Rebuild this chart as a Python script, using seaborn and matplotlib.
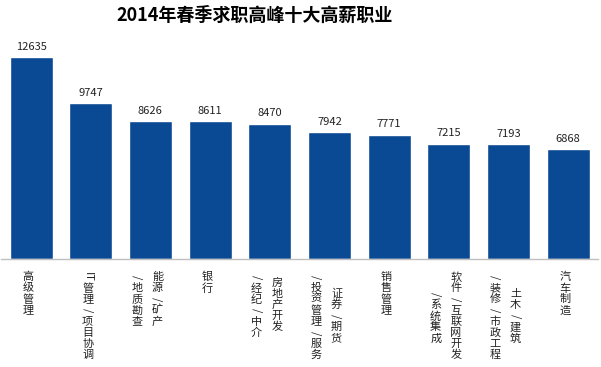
import matplotlib
matplotlib.use('Agg')
import matplotlib.pyplot as plt
import seaborn as sns
import pandas as pd

# 数据
categories = ['高级管理', 'IT管理/项目协调', '能源/矿产\n/地质勘查', '银行',
              '房地产开发\n/经纪/中介', '证券/期货\n/投资管理/服务', '销售管理',
              '软件/互联网开发\n/系统集成', '土木/建筑\n/装修/市政工程', '汽车制造']
salaries = [12635, 9747, 8626, 8611, 8470, 7942, 7771, 7215, 7193, 6868]
title = '2014年春季求职高峰十大高薪职业'

sns.set_style('white')
plt.rcParams['font.family'] = ['Noto Sans CJK SC', 'DejaVu Sans']

df = pd.DataFrame({'职业': categories, '月薪': salaries})

fig = plt.figure(figsize=(6.01, 3.67), dpi=100)
ax = fig.add_axes([0.002, 0.294, 0.993, 0.61])
sns.barplot(data=df, x='职业', y='月薪', color='#0a4994', saturation=1,
            width=0.72, ax=ax)

ax.set_ylim(0, 14000)
ax.set_xlim(-0.5, len(categories) - 0.5)
for s in ['top', 'right', 'left']:
    ax.spines[s].set_visible(False)
ax.spines['bottom'].set_color('#bfbfbf')
ax.spines['bottom'].set_linewidth(1)
ax.set_yticks([])
ax.set_xticks([])
ax.set_xlabel('')
ax.set_ylabel('')

# 数值标签
for i, v in enumerate(salaries):
    ax.annotate(str(v), xy=(i, v), xytext=(0, 4), textcoords='offset points',
                ha='center', va='bottom', fontsize=8, color='#222222')


def tokens(s):
    out = []
    k = 0
    while k < len(s):
        if s[k:k + 2] == 'IT':
            out.append('IT')
            k += 2
        else:
            out.append(s[k])
            k += 1
    return out


# 竖排类别标签 (从右到左排列的列)
step = 8.0  # 每个字的高度, 单位 points
for i, name in enumerate(categories):
    cols = name.split('\n')
    toks = [tokens(c) for c in cols]
    n = max(len(t) for t in toks)
    if len(cols) == 1:
        dxs = [-0.05]
    else:
        dxs = [0.12, -0.22]
    for dx, tk in zip(dxs, toks):
        shift = (n - len(tk)) / 2 * step
        for j, t in enumerate(tk):
            rot = -90 if t in ('IT', '/') else 0
            ax.annotate(t, xy=(i + dx, 0), xycoords='data',
                        xytext=(0, -9 - shift - j * step - step / 2),
                        textcoords='offset points', ha='center', va='center',
                        rotation=rot, fontsize=8, color='#222222',
                        annotation_clip=False)

fig.text(255 / 601, 1 - 15 / 367, title, ha='center', va='center',
         fontsize=13, fontweight='bold', color='black')

fig.savefig('out.png', dpi=100, facecolor='white')
